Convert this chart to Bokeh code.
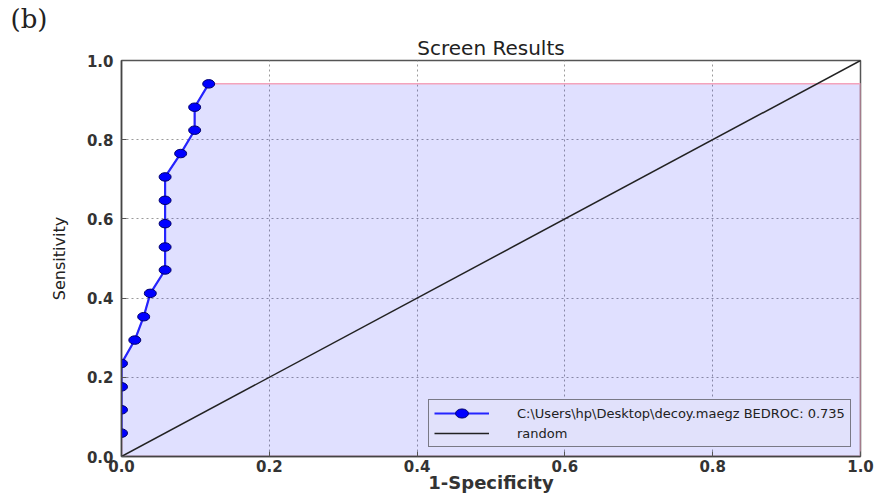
from bokeh.plotting import figure
from bokeh.models import (Range1d, FixedTicker, PrintfTickFormatter, Legend,
                          LegendItem, Title)
from bokeh.embed import file_html
from bokeh.resources import INLINE

# ROC points of the screen (1-specificity, sensitivity)
fpr = [0.0, 0.0, 0.0, 0.0, 0.0, 0.018, 0.030, 0.039, 0.059, 0.059, 0.059,
       0.059, 0.059, 0.080, 0.099, 0.099, 0.118]
tpr = [0.0, 0.059, 0.118, 0.176, 0.235, 0.294, 0.353, 0.412, 0.471, 0.529,
       0.588, 0.647, 0.706, 0.765, 0.824, 0.882, 0.941]

# diagonal of a random ranking
rand_x = [0.0, 1.0]
rand_y = [0.0, 1.0]

ticks = [0.0, 0.2, 0.4, 0.6, 0.8, 1.0]
curve_label = "C:\\Users\\hp\\Desktop\\decoy.maegz BEDROC: 0.735"
random_label = "random"

X_MIN, X_MAX = 0.0, 1.0
Y_MIN, Y_MAX = 0.0, 1.0

p = figure(width=877, height=495, output_backend="svg", toolbar_location=None,
           x_range=Range1d(X_MIN, X_MAX), y_range=Range1d(Y_MIN, Y_MAX),
           min_border_left=121, min_border_right=17, min_border_top=60,
           min_border_bottom=38, title="(b)")

p.background_fill_color = "white"
p.border_fill_color = "white"
p.outline_line_color = "#555555"
p.outline_line_width = 1.5

# panel tag in the top-left corner (outermost title row)
p.title.align = "left"
p.title.vertical_align = "bottom"
p.title.offset = -111
p.title.standoff = 0
p.title.text_font = "DejaVu Serif"
p.title.text_font_size = "26px"
p.title.text_font_style = "normal"
p.title.text_color = "#222222"

# chart title, sitting right above the frame
main_title = Title(text="Screen Results", align="center", standoff=1,
                   text_font="DejaVu Sans", text_font_size="20px",
                   text_font_style="normal", text_color="#222222")
p.add_layout(main_title, "above")

for ax in (p.xaxis, p.yaxis):
    ax.ticker = FixedTicker(ticks=ticks)
    ax.formatter = PrintfTickFormatter(format="%.1f")
    ax.major_tick_in = 5
    ax.major_tick_out = 0
    ax.minor_tick_in = 0
    ax.minor_tick_out = 0
    ax.major_tick_line_color = "#555555"
    ax.axis_line_color = "#444444"
    ax.axis_line_width = 1.5
    ax.major_label_text_font = "DejaVu Sans"
    ax.major_label_text_font_size = "15px"
    ax.major_label_text_font_style = "bold"
    ax.major_label_text_color = "#333333"

p.xaxis.major_label_standoff = 3
p.yaxis.major_label_standoff = 8
p.xaxis.axis_label = "1-Specificity"
p.xaxis.axis_label_text_font = "DejaVu Sans"
p.xaxis.axis_label_text_font_size = "18px"
p.xaxis.axis_label_text_font_style = "bold"
p.xaxis.axis_label_text_color = "#333333"
p.xaxis.axis_label_standoff = -3
p.yaxis.axis_label = "Sensitivity"
p.yaxis.axis_label_text_font = "DejaVu Sans"
p.yaxis.axis_label_text_font_size = "16px"
p.yaxis.axis_label_text_font_style = "normal"
p.yaxis.axis_label_text_color = "#222222"
p.yaxis.axis_label_standoff = 15

for g in (p.xgrid, p.ygrid):
    g.ticker = FixedTicker(ticks=ticks)
    g.grid_line_color = "#9a9a9a"
    g.grid_line_dash = "2 3"
    g.grid_line_width = 1

# shaded area under the curve, carried flat to the right edge
area_x = fpr + [X_MAX, X_MAX]
area_y = tpr + [tpr[-1], Y_MIN]
p.patch(area_x, area_y, fill_color="#0000ff", fill_alpha=0.12,
        line_color="#f4a3bb", line_width=1.5)

rand_r = p.line(rand_x, rand_y, line_color="#222222", line_width=1.5)

curve_r = p.line(fpr[1:], tpr[1:], line_color="#2424ff", line_width=2.2)
dots_r = p.ellipse(fpr[1:], tpr[1:], width=12, height=8.5,
                   width_units="screen", height_units="screen",
                   fill_color="#0000ff", line_color="#00006a", line_width=1)

legend = Legend(items=[LegendItem(label=curve_label, renderers=[curve_r, dots_r]),
                       LegendItem(label=random_label, renderers=[rand_r])],
                location=(307, 9))
legend.border_line_color = "#111111"
legend.border_line_width = 1.2
legend.background_fill_color = "#e1e1fb"
legend.background_fill_alpha = 1.0
legend.label_text_font = "DejaVu Sans"
legend.label_text_font_size = "13px"
legend.label_text_color = "#222222"
legend.glyph_width = 55
legend.glyph_height = 16
legend.label_height = 16
legend.label_standoff = 28
legend.padding = 5
legend.spacing = 4
legend.margin = 0
p.add_layout(legend, "center")

open("out.html", "w").write(file_html(p, INLINE))
